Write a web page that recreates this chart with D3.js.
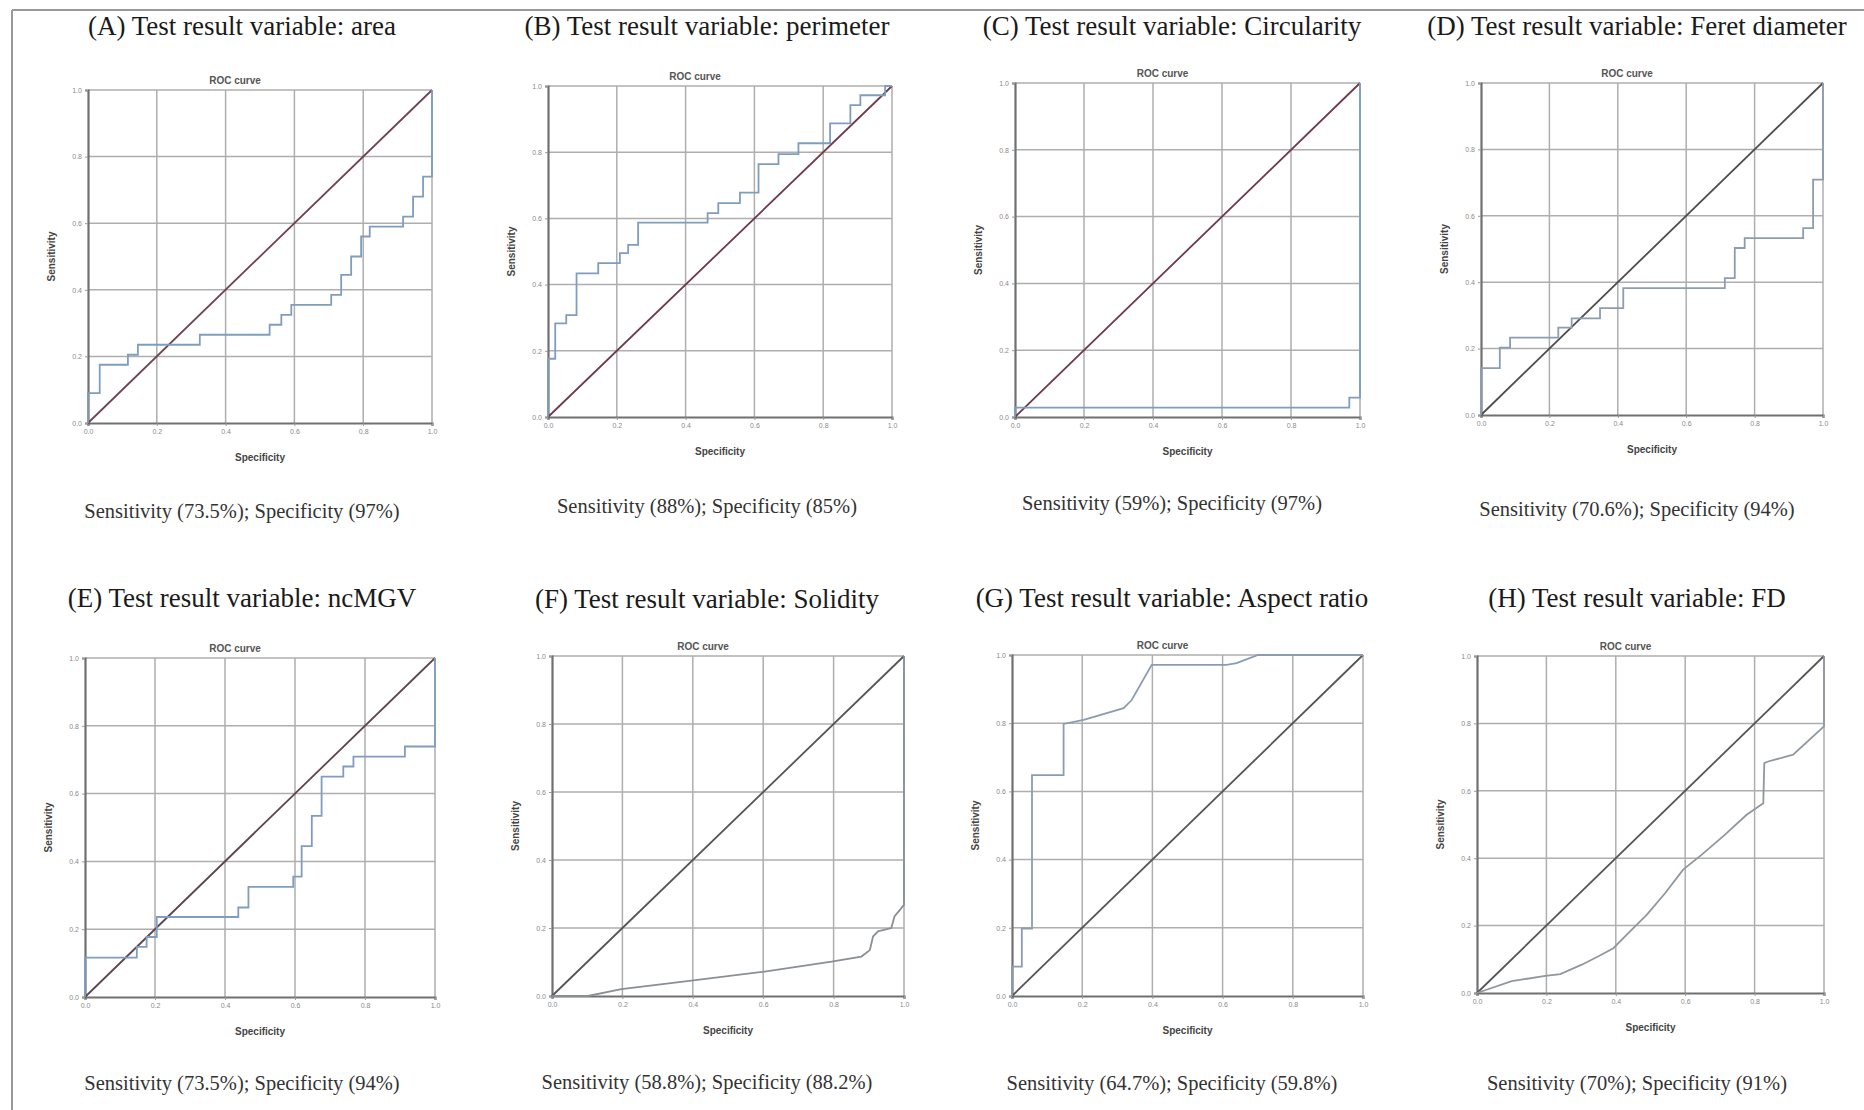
<!DOCTYPE html>
<html>
<head>
<meta charset="utf-8">
<script src="https://cdn.jsdelivr.net/npm/d3@7"></script>
<style>
body { margin: 0; background: #fff; }
</style>
</head>
<body>
<script>
//panel titles and captions
var titles = [
    "(A) Test result variable: area",
    "(B) Test result variable: perimeter",
    "(C) Test result variable: Circularity",
    "(D) Test result variable: Feret diameter",
    "(E) Test result variable: ncMGV",
    "(F) Test result variable: Solidity",
    "(G) Test result variable: Aspect ratio",
    "(H) Test result variable: FD"
];
var captions = [
    "Sensitivity (73.5%); Specificity (97%)",
    "Sensitivity (88%); Specificity (85%)",
    "Sensitivity (59%); Specificity (97%)",
    "Sensitivity (70.6%); Specificity (94%)",
    "Sensitivity (73.5%); Specificity (94%)",
    "Sensitivity (58.8%); Specificity (88.2%)",
    "Sensitivity (64.7%); Specificity (59.8%)",
    "Sensitivity (70%); Specificity (91%)"
];
var tickValues = [0, 0.2, 0.4, 0.6, 0.8, 1.0];

//ROC curve points (x = 1 - specificity, y = sensitivity)
var areaX = [0, 0, 0.034, 0.116, 0.145, 0.325, 0.528, 0.562, 0.591, 0.707, 0.736, 0.765, 0.794, 0.819, 0.916, 0.945, 0.974, 1.0];
var areaY = [0, 0.09, 0.175, 0.205, 0.235, 0.265, 0.295, 0.325, 0.355, 0.385, 0.445, 0.50, 0.56, 0.59, 0.62, 0.68, 0.74, 1.0];

var perimX = [0, 0, 0.021, 0.053, 0.083, 0.146, 0.209, 0.233, 0.262, 0.464, 0.495, 0.558, 0.612, 0.670, 0.728, 0.820, 0.879, 0.908, 0.980, 1.0];
var perimY = [0, 0.176, 0.283, 0.308, 0.434, 0.465, 0.495, 0.52, 0.587, 0.616, 0.646, 0.678, 0.764, 0.794, 0.827, 0.887, 0.942, 0.972, 1.0, 1.0];

var circX = [0, 0, 0.969, 1.0];
var circY = [0, 0.028, 0.058, 1.0];

var feretX = [0, 0, 0.055, 0.085, 0.226, 0.265, 0.348, 0.416, 0.713, 0.742, 0.771, 0.942, 0.971, 1.0];
var feretY = [0, 0.141, 0.203, 0.233, 0.263, 0.291, 0.322, 0.382, 0.412, 0.503, 0.533, 0.563, 0.709, 1.0];

var mgvX = [0, 0, 0.148, 0.176, 0.205, 0.438, 0.467, 0.595, 0.619, 0.648, 0.676, 0.738, 0.767, 0.914, 1.0];
var mgvY = [0, 0.116, 0.148, 0.177, 0.236, 0.264, 0.325, 0.355, 0.445, 0.534, 0.65, 0.68, 0.709, 0.739, 1.0];

var solidX = [0, 0.102, 0.197, 0.396, 0.604, 0.794, 0.879, 0.903, 0.912, 0.926, 0.964, 0.973, 1.0, 1.0];
var solidY = [0, 0, 0.02, 0.045, 0.072, 0.101, 0.116, 0.135, 0.175, 0.19, 0.2, 0.234, 0.268, 1.0];

var aspectX = [0, 0, 0.028, 0.028, 0.057, 0.057, 0.147, 0.147, 0.204, 0.318, 0.341, 0.398, 0.611, 0.64, 0.701, 1.0];
var aspectY = [0, 0.086, 0.086, 0.198, 0.198, 0.648, 0.648, 0.798, 0.81, 0.844, 0.868, 0.971, 0.971, 0.976, 1.0, 1.0];

var fdX = [0, 0.1, 0.197, 0.24, 0.302, 0.35, 0.393, 0.436, 0.489, 0.542, 0.594, 0.647, 0.714, 0.777, 0.825, 0.828, 0.839, 0.911, 1.0, 1.0];
var fdY = [0, 0.035, 0.051, 0.056, 0.084, 0.109, 0.133, 0.178, 0.232, 0.296, 0.366, 0.41, 0.469, 0.529, 0.563, 0.682, 0.687, 0.707, 0.791, 1.0];

var curvesX = [areaX, perimX, circX, feretX, mgvX, solidX, aspectX, fdX];
var curvesY = [areaY, perimY, circY, feretY, mgvY, solidY, aspectY, fdY];

window.onload = function(){
    var w = 1864, h = 1110;
    var svg = d3.select("body")
        .append("svg")
        .attr("width", w)
        .attr("height", h);

//layout of each panel: plot box, title and caption baselines, column centre
    var colCenter = [242, 707, 1172, 1637, 242, 707, 1172, 1637];
    var boxes = [
        [88, 90, 432, 423], [548, 86, 892, 417], [1015, 83, 1360, 417], [1481, 83, 1823, 415],
        [85, 658, 435, 997], [552, 656, 904, 996], [1012, 655, 1363, 996], [1477, 656, 1824, 993]
    ];
    var titleY = [35, 35, 35, 35, 607, 608, 607, 607];
    var captionY = [518, 513, 510, 516, 1090, 1089, 1090, 1090];
    var stepped = [true, true, true, true, true, false, false, false];
    var curveColor = ["#7f9dbf", "#7f9dbf", "#7f9dbf", "#8c9db0", "#7f9dbf", "#8a8f96", "#8a9cb2", "#8f979f"];
    var diagColor = ["#6e4352", "#6e3a4a", "#6e3a4a", "#4d4d4d", "#5e4550", "#555", "#555", "#555"];

//outer frame of the figure
    svg.append("line").attr("x1", 12).attr("x2", w).attr("y1", 10).attr("y2", 10)
        .style("stroke", "#999").style("stroke-width", 2);
    svg.append("line").attr("x1", 12).attr("x2", 12).attr("y1", 10).attr("y2", h)
        .style("stroke", "#999").style("stroke-width", 2);

    var fmt = d3.format(".1f");

    titles.forEach(function(t, i){
        var b = boxes[i];
        var g = svg.append("g").attr("class", "panel");
        var x = d3.scaleLinear().domain([0, 1]).range([b[0], b[2]]);
        var y = d3.scaleLinear().domain([0, 1]).range([b[3], b[1]]);

        //grid
        g.selectAll(".vgrid").data(tickValues.slice(1)).enter()
            .append("line")
            .attr("x1", function(d){ return x(d); })
            .attr("x2", function(d){ return x(d); })
            .attr("y1", y(0)).attr("y2", y(1))
            .style("stroke", "#aeaeae").style("stroke-width", 1.5);
        g.selectAll(".hgrid").data(tickValues.slice(1)).enter()
            .append("line")
            .attr("y1", function(d){ return y(d); })
            .attr("y2", function(d){ return y(d); })
            .attr("x1", x(0)).attr("x2", x(1))
            .style("stroke", "#aeaeae").style("stroke-width", 1.5);

        //axes
        var xAxis = d3.axisBottom(x).tickValues(tickValues).tickFormat(fmt).tickSize(3);
        var yAxis = d3.axisLeft(y).tickValues(tickValues).tickFormat(fmt).tickSize(3);
        var ax = g.append("g").attr("transform", "translate(0," + y(0) + ")").call(xAxis);
        var ay = g.append("g").attr("transform", "translate(" + x(0) + ",0)").call(yAxis);
        [ax, ay].forEach(function(a){
            a.select(".domain").style("stroke", "#707070").style("stroke-width", 2.2);
            a.selectAll(".tick line").style("stroke", "#999");
            a.selectAll(".tick text")
                .style("font-family", "Liberation Sans, Arial, sans-serif")
                .style("font-size", "7px")
                .style("fill", "#8a8a8a");
        });

        //reference diagonal
        var line = d3.line()
            .x(function(d){ return x(d[0]); })
            .y(function(d){ return y(d[1]); });
        g.append("path")
            .datum([[0, 0], [1, 1]])
            .attr("d", line)
            .style("fill", "none")
            .style("stroke", diagColor[i])
            .style("stroke-width", 1.8);

        //roc curve
        var pts = curvesX[i].map(function(v, k){ return [v, curvesY[i][k]]; });
        var curveLine = d3.line()
            .x(function(d){ return x(d[0]); })
            .y(function(d){ return y(d[1]); })
            .curve(stepped[i] ? d3.curveStepAfter : d3.curveLinear);
        g.append("path")
            .datum(pts)
            .attr("d", curveLine)
            .style("fill", "none")
            .style("stroke", curveColor[i])
            .style("stroke-width", 1.8);

        //chart labels
        g.append("text")
            .attr("x", (b[0] + b[2]) / 2 - 25)
            .attr("y", b[1] - 6)
            .attr("text-anchor", "middle")
            .style("font-family", "Liberation Sans, Arial, sans-serif")
            .style("font-weight", "bold")
            .style("font-size", "10px")
            .style("fill", "#555")
            .text("ROC curve");
        g.append("text")
            .attr("x", (b[0] + b[2]) / 2)
            .attr("y", b[3] + 38)
            .attr("text-anchor", "middle")
            .style("font-family", "Liberation Sans, Arial, sans-serif")
            .style("font-weight", "bold")
            .style("font-size", "10px")
            .style("fill", "#444")
            .text("Specificity");
        g.append("text")
            .attr("transform", "translate(" + (b[0] - 33) + "," + ((b[1] + b[3]) / 2) + ") rotate(-90)")
            .attr("text-anchor", "middle")
            .style("font-family", "Liberation Sans, Arial, sans-serif")
            .style("font-weight", "bold")
            .style("font-size", "10px")
            .style("fill", "#444")
            .text("Sensitivity");

        //panel title and caption
        g.append("text")
            .attr("x", colCenter[i])
            .attr("y", titleY[i])
            .attr("text-anchor", "middle")
            .style("font-family", "Liberation Serif, Times New Roman, serif")
            .style("font-size", "27px")
            .style("fill", "#1a1a1a")
            .text(t);
        g.append("text")
            .attr("x", colCenter[i])
            .attr("y", captionY[i])
            .attr("text-anchor", "middle")
            .style("font-family", "Liberation Serif, Times New Roman, serif")
            .style("font-size", "20.5px")
            .style("fill", "#333")
            .text(captions[i]);
    });
};
</script>
</body>
</html>
